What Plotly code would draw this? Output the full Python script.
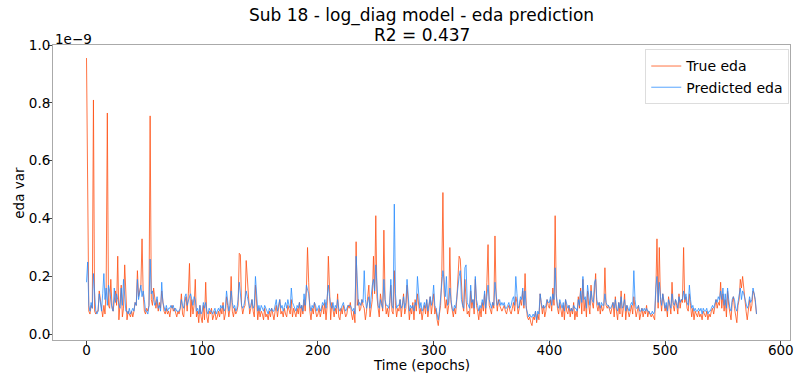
import plotly.graph_objects as go

# values in units of 1e-9 (axis offset label "1e−9")
true_eda = [
    0.955, 0.35, 0.08, 0.07, 0.10, 0.09, 0.81, 0.08, 0.07, 0.08,
    0.08, 0.15, 0.12, 0.09, 0.06, 0.10, 0.07, 0.16, 0.765, 0.10,
    0.09, 0.19, 0.10, 0.08, 0.13, 0.15, 0.10, 0.27, 0.05, 0.12,
    0.17, 0.06, 0.09, 0.24, 0.10, 0.05, 0.08, 0.07, 0.06, 0.08,
    0.06, 0.08, 0.11, 0.10, 0.22, 0.13, 0.15, 0.17, 0.33, 0.14,
    0.08, 0.07, 0.09, 0.08, 0.10, 0.755, 0.12, 0.10, 0.16, 0.11,
    0.09, 0.12, 0.08, 0.11, 0.09, 0.15, 0.10, 0.08, 0.07, 0.09,
    0.07, 0.08, 0.06, 0.09, 0.10, 0.08, 0.09, 0.07, 0.06, 0.08,
    0.07, 0.09, 0.14, 0.07, 0.06, 0.11, 0.13, 0.08, 0.14, 0.245,
    0.06, 0.12, 0.07, 0.10, 0.19, 0.06, 0.08, 0.04, 0.10, 0.06,
    0.04, 0.10, 0.05, 0.18, 0.06, 0.04, 0.08, 0.07, 0.09, 0.05,
    0.07, 0.08, 0.05, 0.06, 0.08, 0.06, 0.09, 0.07, 0.11, 0.05,
    0.07, 0.13, 0.10, 0.06, 0.09, 0.20, 0.08, 0.06, 0.09, 0.07,
    0.08, 0.10, 0.28, 0.275, 0.10, 0.07, 0.09, 0.10, 0.255, 0.19,
    0.10, 0.07, 0.09, 0.12, 0.08, 0.06, 0.17, 0.10, 0.05, 0.09,
    0.06, 0.08, 0.07, 0.05, 0.09, 0.06, 0.07, 0.05, 0.08, 0.06,
    0.09, 0.07, 0.05, 0.08, 0.10, 0.06, 0.09, 0.12, 0.07, 0.08,
    0.06, 0.09, 0.07, 0.06, 0.10, 0.08, 0.07, 0.12, 0.06, 0.09,
    0.07, 0.06, 0.09, 0.07, 0.11, 0.06, 0.10, 0.07, 0.12, 0.08,
    0.15, 0.30, 0.18, 0.08, 0.05, 0.09, 0.07, 0.11, 0.08, 0.06,
    0.07, 0.09, 0.06, 0.08, 0.10, 0.07, 0.11, 0.05, 0.10, 0.27,
    0.14, 0.05, 0.11, 0.08, 0.06, 0.09, 0.07, 0.14, 0.06, 0.05,
    0.09, 0.07, 0.10, 0.08, 0.06, 0.07, 0.10, 0.09, 0.11, 0.07,
    0.05, 0.08, 0.04, 0.32, 0.10, 0.12, 0.08, 0.09, 0.12, 0.10,
    0.09, 0.05, 0.08, 0.13, 0.17, 0.06, 0.10, 0.12, 0.27, 0.14,
    0.41, 0.13, 0.09, 0.06, 0.14, 0.10, 0.08, 0.36, 0.12, 0.07,
    0.09, 0.06, 0.10, 0.17, 0.08, 0.07, 0.22, 0.10, 0.06, 0.09,
    0.08, 0.12, 0.06, 0.10, 0.14, 0.07, 0.09, 0.17, 0.11, 0.05,
    0.09, 0.07, 0.11, 0.05, 0.12, 0.08, 0.14, 0.10, 0.07, 0.09,
    0.05, 0.08, 0.10, 0.07, 0.12, 0.06, 0.09, 0.13, 0.07, 0.10,
    0.14, 0.07, 0.09, 0.05, 0.03, 0.07, 0.10, 0.20, 0.49, 0.15,
    0.09, 0.12, 0.07, 0.10, 0.30, 0.11, 0.08, 0.06, 0.09, 0.07,
    0.12, 0.19, 0.27, 0.26, 0.15, 0.10, 0.08, 0.19, 0.12, 0.07,
    0.08, 0.06, 0.15, 0.09, 0.12, 0.07, 0.19, 0.10, 0.08, 0.05,
    0.09, 0.06, 0.11, 0.08, 0.14, 0.07, 0.18, 0.31, 0.10, 0.08,
    0.07, 0.11, 0.09, 0.34, 0.13, 0.08, 0.12, 0.10, 0.09, 0.08,
    0.09, 0.10, 0.08, 0.07, 0.09, 0.10, 0.08, 0.07, 0.09, 0.11,
    0.08, 0.13, 0.11, 0.07, 0.09, 0.12, 0.10, 0.15, 0.09, 0.21,
    0.10, 0.06, 0.05, 0.06, 0.04, 0.03, 0.06, 0.05, 0.08, 0.04,
    0.07, 0.05, 0.14, 0.09, 0.07, 0.10, 0.06, 0.08, 0.12, 0.10,
    0.09, 0.12, 0.08, 0.16, 0.10, 0.41, 0.14, 0.09, 0.07, 0.11,
    0.08, 0.06, 0.10, 0.05, 0.12, 0.08, 0.07, 0.10, 0.06, 0.09,
    0.07, 0.11, 0.05, 0.08, 0.06, 0.13, 0.09, 0.16, 0.07, 0.19,
    0.08, 0.12, 0.06, 0.15, 0.10, 0.07, 0.17, 0.11, 0.09, 0.14,
    0.21, 0.10, 0.08, 0.11, 0.07, 0.10, 0.08, 0.09, 0.23, 0.10,
    0.09, 0.10, 0.08, 0.07, 0.09, 0.11, 0.06, 0.13, 0.08, 0.05,
    0.11, 0.07, 0.15, 0.06, 0.09, 0.14, 0.05, 0.10, 0.08, 0.06,
    0.08, 0.10, 0.07, 0.13, 0.09, 0.06, 0.08, 0.10, 0.05, 0.07,
    0.09, 0.06, 0.08, 0.07, 0.10, 0.06, 0.08, 0.07, 0.06, 0.07,
    0.06, 0.05, 0.15, 0.33, 0.09, 0.30, 0.12, 0.08, 0.14, 0.10,
    0.08, 0.10, 0.06, 0.13, 0.09, 0.07, 0.18, 0.10, 0.08, 0.12,
    0.10, 0.07, 0.14, 0.09, 0.12, 0.11, 0.30, 0.11, 0.13, 0.09,
    0.08, 0.14, 0.10, 0.06, 0.09, 0.05, 0.08, 0.07, 0.06, 0.08,
    0.06, 0.07, 0.05, 0.08, 0.07, 0.06, 0.08, 0.05, 0.07, 0.06,
    0.08, 0.09, 0.07, 0.10, 0.12, 0.09, 0.11, 0.10, 0.18, 0.09,
    0.14, 0.08, 0.12, 0.06, 0.15, 0.10, 0.07, 0.05, 0.11, 0.13,
    0.09, 0.06, 0.04, 0.10, 0.12, 0.19, 0.16, 0.20, 0.15, 0.10,
    0.08, 0.05, 0.09, 0.12, 0.08, 0.10, 0.15, 0.14, 0.11, 0.07,
]

pred_eda = [
    0.18, 0.25, 0.10, 0.08, 0.11, 0.09, 0.21, 0.12, 0.08, 0.07,
    0.08, 0.14, 0.10, 0.08, 0.14, 0.21, 0.12, 0.16, 0.10, 0.17,
    0.15, 0.12, 0.09, 0.08, 0.16, 0.11, 0.14, 0.12, 0.10, 0.09,
    0.16, 0.10, 0.19, 0.12, 0.08, 0.08, 0.07, 0.09, 0.07, 0.08,
    0.09, 0.08, 0.11, 0.10, 0.19, 0.12, 0.14, 0.17, 0.13, 0.15,
    0.12, 0.08, 0.08, 0.07, 0.10, 0.26, 0.14, 0.15, 0.12, 0.10,
    0.11, 0.13, 0.09, 0.10, 0.08, 0.18, 0.11, 0.09, 0.08, 0.10,
    0.08, 0.09, 0.09, 0.10, 0.09, 0.10, 0.08, 0.09, 0.08, 0.08,
    0.08, 0.09, 0.12, 0.10, 0.09, 0.13, 0.14, 0.10, 0.12, 0.13,
    0.14, 0.12, 0.10, 0.13, 0.12, 0.08, 0.09, 0.07, 0.10, 0.07,
    0.08, 0.11, 0.09, 0.11, 0.08, 0.07, 0.09, 0.08, 0.08, 0.07,
    0.08, 0.09, 0.07, 0.08, 0.09, 0.08, 0.10, 0.09, 0.10, 0.08,
    0.09, 0.15, 0.12, 0.08, 0.10, 0.15, 0.11, 0.09, 0.10, 0.08,
    0.09, 0.12, 0.18, 0.14, 0.10, 0.09, 0.10, 0.12, 0.15, 0.13,
    0.11, 0.09, 0.10, 0.12, 0.09, 0.10, 0.20, 0.12, 0.08, 0.10,
    0.08, 0.10, 0.09, 0.08, 0.10, 0.09, 0.08, 0.07, 0.09, 0.08,
    0.09, 0.08, 0.08, 0.10, 0.12, 0.08, 0.10, 0.12, 0.09, 0.10,
    0.08, 0.10, 0.11, 0.09, 0.12, 0.10, 0.09, 0.16, 0.11, 0.10,
    0.09, 0.08, 0.10, 0.09, 0.11, 0.09, 0.10, 0.08, 0.14, 0.10,
    0.17, 0.15, 0.14, 0.10, 0.08, 0.10, 0.09, 0.11, 0.10, 0.08,
    0.09, 0.10, 0.08, 0.09, 0.11, 0.10, 0.12, 0.09, 0.13, 0.17,
    0.13, 0.10, 0.09, 0.11, 0.08, 0.10, 0.09, 0.12, 0.09, 0.08,
    0.09, 0.10, 0.11, 0.09, 0.08, 0.09, 0.10, 0.10, 0.10, 0.09,
    0.08, 0.09, 0.07, 0.27, 0.15, 0.10, 0.11, 0.10, 0.12, 0.11,
    0.22, 0.12, 0.09, 0.11, 0.13, 0.09, 0.14, 0.17, 0.19, 0.15,
    0.24, 0.15, 0.10, 0.09, 0.12, 0.10, 0.09, 0.19, 0.12, 0.10,
    0.10, 0.09, 0.11, 0.19, 0.10, 0.09, 0.45, 0.14, 0.09, 0.10,
    0.10, 0.12, 0.09, 0.10, 0.13, 0.09, 0.11, 0.19, 0.12, 0.08,
    0.10, 0.09, 0.10, 0.08, 0.11, 0.10, 0.20, 0.12, 0.09, 0.11,
    0.08, 0.09, 0.11, 0.09, 0.12, 0.08, 0.10, 0.13, 0.10, 0.12,
    0.17, 0.10, 0.09, 0.07, 0.05, 0.08, 0.12, 0.16, 0.22, 0.19,
    0.13, 0.20, 0.10, 0.11, 0.16, 0.12, 0.09, 0.08, 0.10, 0.09,
    0.13, 0.18, 0.20, 0.22, 0.12, 0.10, 0.09, 0.23, 0.24, 0.11,
    0.10, 0.09, 0.17, 0.11, 0.12, 0.09, 0.20, 0.12, 0.10, 0.08,
    0.10, 0.09, 0.12, 0.10, 0.15, 0.09, 0.13, 0.17, 0.12, 0.10,
    0.09, 0.11, 0.10, 0.18, 0.14, 0.10, 0.11, 0.12, 0.10, 0.11,
    0.10, 0.11, 0.09, 0.09, 0.10, 0.11, 0.09, 0.10, 0.12, 0.13,
    0.10, 0.20, 0.14, 0.09, 0.10, 0.13, 0.12, 0.16, 0.10, 0.15,
    0.09, 0.07, 0.06, 0.07, 0.06, 0.06, 0.07, 0.06, 0.08, 0.05,
    0.08, 0.07, 0.14, 0.11, 0.09, 0.10, 0.09, 0.10, 0.12, 0.11,
    0.11, 0.13, 0.10, 0.14, 0.12, 0.23, 0.13, 0.10, 0.09, 0.12,
    0.10, 0.09, 0.11, 0.08, 0.12, 0.10, 0.09, 0.10, 0.08, 0.09,
    0.08, 0.10, 0.09, 0.09, 0.08, 0.12, 0.10, 0.15, 0.11, 0.20,
    0.12, 0.13, 0.09, 0.17, 0.12, 0.10, 0.15, 0.12, 0.11, 0.18,
    0.19, 0.12, 0.10, 0.11, 0.09, 0.11, 0.10, 0.10, 0.14, 0.11,
    0.10, 0.10, 0.09, 0.09, 0.10, 0.11, 0.09, 0.12, 0.09, 0.08,
    0.11, 0.09, 0.13, 0.09, 0.10, 0.12, 0.08, 0.10, 0.09, 0.08,
    0.10, 0.11, 0.10, 0.22, 0.12, 0.09, 0.09, 0.10, 0.08, 0.08,
    0.09, 0.08, 0.09, 0.08, 0.09, 0.08, 0.08, 0.07, 0.07, 0.08,
    0.07, 0.08, 0.16, 0.20, 0.11, 0.18, 0.13, 0.10, 0.14, 0.12,
    0.09, 0.11, 0.08, 0.12, 0.10, 0.09, 0.14, 0.11, 0.10, 0.12,
    0.11, 0.09, 0.13, 0.11, 0.12, 0.12, 0.15, 0.12, 0.14, 0.11,
    0.10, 0.17, 0.12, 0.09, 0.10, 0.08, 0.09, 0.08, 0.08, 0.09,
    0.08, 0.09, 0.07, 0.09, 0.08, 0.08, 0.09, 0.07, 0.08, 0.08,
    0.09, 0.10, 0.09, 0.11, 0.12, 0.11, 0.13, 0.12, 0.15, 0.12,
    0.16, 0.10, 0.14, 0.09, 0.16, 0.12, 0.09, 0.08, 0.12, 0.13,
    0.12, 0.09, 0.08, 0.11, 0.13, 0.16, 0.12, 0.15, 0.14, 0.12,
    0.10, 0.09, 0.10, 0.13, 0.11, 0.12, 0.16, 0.14, 0.12, 0.07,
]

epochs = list(range(len(true_eda)))

title_lines = ["Sub 18 - log_diag model - eda prediction", "R2 = 0.437"]
x_ticks = [0, 100, 200, 300, 400, 500, 600]
y_ticks = [0.0, 0.2, 0.4, 0.6, 0.8, 1.0]

FONT = "DejaVu Sans"

fig = go.Figure()
fig.add_trace(go.Scatter(
    x=epochs, y=true_eda, mode="lines", name="True eda",
    line=dict(color="rgba(255,80,20,0.8)", width=1),
))
fig.add_trace(go.Scatter(
    x=epochs, y=pred_eda, mode="lines", name="Predicted eda",
    line=dict(color="rgba(40,140,255,0.78)", width=1),
))

fig.update_layout(
    width=800, height=378,
    margin=dict(l=53, r=6, t=45, b=38),
    paper_bgcolor="white", plot_bgcolor="white",
    font=dict(family=FONT, size=13.5, color="black"),
    showlegend=True,
    legend=dict(x=0.999, xanchor="right", y=0.985, yanchor="top",
                bgcolor="white", bordercolor="#dddddd", borderwidth=1,
                font=dict(family=FONT, size=14, color="black"),
                itemwidth=30),
)

fig.update_xaxes(
    range=[-28.95, 607.95], tickvals=x_ticks, ticks="outside", ticklen=4,
    tickcolor="#444", showgrid=False, zeroline=False,
    showline=True, linecolor="#aaaaaa", linewidth=1, mirror=True,
    tickfont=dict(size=13.5), ticklabelstandoff=-6,
)
fig.update_yaxes(
    range=[-0.0197, 1.0], tickvals=y_ticks, tickformat=".1f", ticks="outside",
    ticklen=4, tickcolor="#444", showgrid=False, zeroline=False,
    showline=True, linecolor="#aaaaaa", linewidth=1, mirror=True,
    tickfont=dict(size=13.5), ticklabelstandoff=-5,
)

# title lines
fig.add_annotation(text=title_lines[0], xref="paper", yref="paper", x=0.5, y=1.099,
                   xanchor="center", yanchor="middle", showarrow=False,
                   font=dict(family=FONT, size=17, color="black"))
fig.add_annotation(text=title_lines[1], xref="paper", yref="paper", x=0.5, y=1.033,
                   xanchor="center", yanchor="middle", showarrow=False,
                   font=dict(family=FONT, size=17, color="black"))
# axis labels
fig.add_annotation(text="eda var", xref="paper", yref="paper", x=-0.0472, y=0.5,
                   xanchor="center", yanchor="middle", textangle=-90, showarrow=False,
                   font=dict(family=FONT, size=13.5, color="black"))
fig.add_annotation(text="Time (epochs)", xref="paper", yref="paper", x=0.5, y=-0.0847,
                   xanchor="center", yanchor="middle", showarrow=False,
                   font=dict(family=FONT, size=13.5, color="black"))
# offset text
fig.add_annotation(
    text="1e\u22129", xref="paper", yref="paper", x=0.0, y=1.0,
    xanchor="left", yanchor="bottom", showarrow=False,
    font=dict(family=FONT, size=13.5, color="black"), yshift=-4,
)

fig.write_html("out.html")
